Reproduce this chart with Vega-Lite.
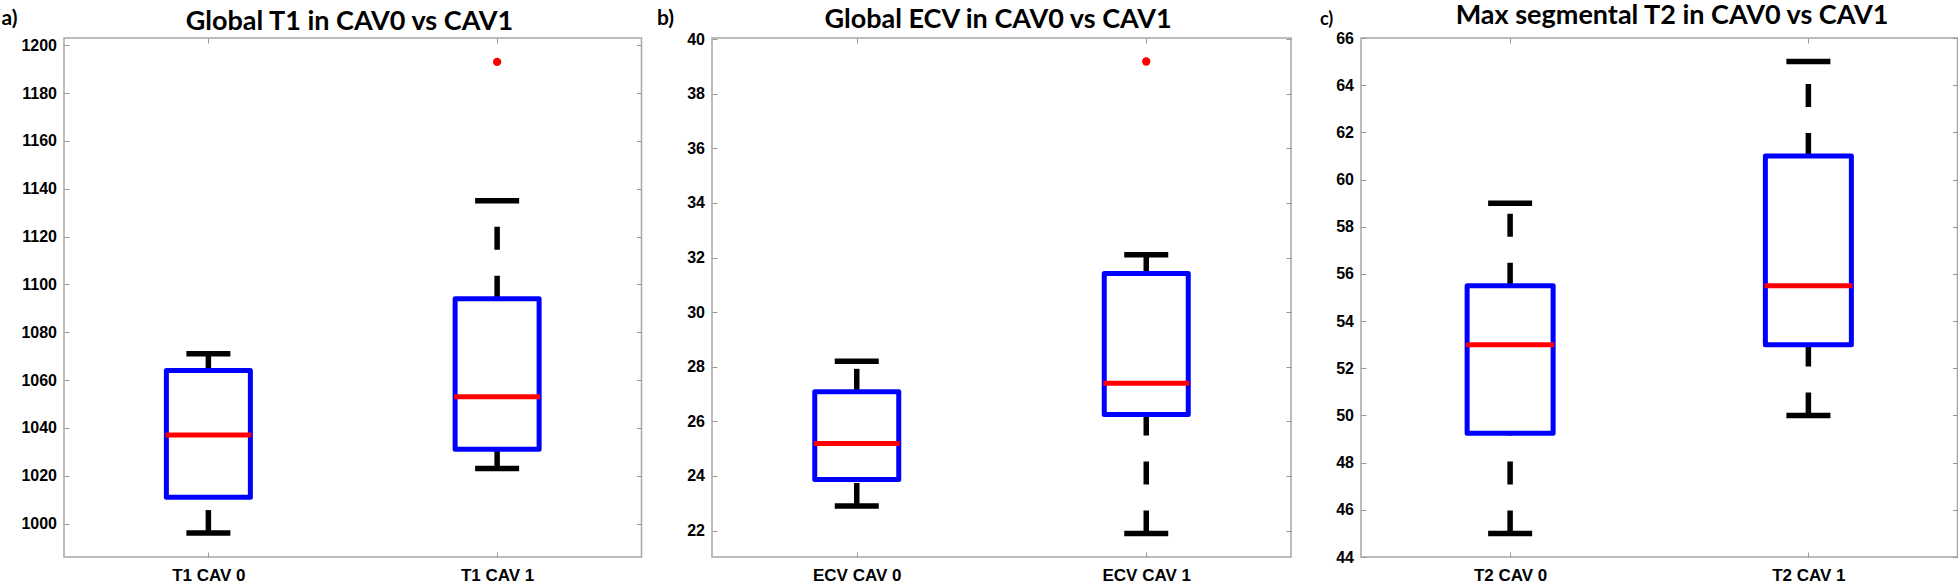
{
  "$schema": "https://vega.github.io/schema/vega-lite/v6.json",
  "background": "white",
  "padding": {"left": 0, "top": 0, "right": 0, "bottom": 0},
  "spacing": 70,
  "bounds": "flush",
  "config": {
    "view": {"stroke": "#a6a6a6", "strokeWidth": 1.5},
    "axis": {
      "labelFont": "Liberation Sans", "labelFontWeight": "bold", "labelColor": "black", "labelFontSize": 16,
      "tickColor": "#999999", "tickSize": -5, "tickWidth": 1, "domain": false, "grid": false,
      "titleFont": "Lato", "titleFontWeight": "bold", "titleColor": "black"
    },
    "axisX": {"labelFontSize": 17, "labelAngle": 0, "labelPadding": 15.5},
    "axisY": {"labelPadding": 12.5, "format": "d"}
  },
  "hconcat": [
    {
      "width": 577.5, "height": 519,
      "data": {"values": [
        {"group": "T1 CAV 0", "lower": 996, "q1": 1011, "median": 1037, "q3": 1064, "upper": 1071},
        {"group": "T1 CAV 1", "lower": 1023, "q1": 1031, "median": 1053, "q3": 1094, "upper": 1135}
      ]},
      "encoding": {"x": {"field": "group", "type": "nominal", "scale": {"type": "point", "padding": 0.5}, "axis": {"title": null}}},
      "resolve": {"axis": {"x": "independent", "y": "independent"}},
      "layer": [
        {"layer": [
          {"mark": {"type": "rule", "color": "black", "strokeWidth": 5.5, "strokeDash": [23, 26]},
           "encoding": {"y": {"field": "q3", "type": "quantitative", "scale": {"domain": [986, 1203], "nice": false, "zero": false},
             "axis": {"title": "a)", "format": "d", "values": [1000, 1020, 1040, 1060, 1080, 1100, 1120, 1140, 1160, 1180, 1200], "titleAngle": 0, "titleAlign": "left", "titleBaseline": "alphabetic", "titleX": -63, "titleY": -13.5, "titleFontSize": 21}},
             "y2": {"field": "upper"}}},
          {"mark": {"type": "rule", "color": "black", "strokeWidth": 5.5, "strokeDash": [23, 26]},
           "encoding": {"y": {"field": "lower", "type": "quantitative"}, "y2": {"field": "q1"}}},
          {"mark": {"type": "tick", "color": "black", "size": 44, "thickness": 5.5, "opacity": 1},
           "encoding": {"y": {"field": "upper", "type": "quantitative"}}},
          {"mark": {"type": "tick", "color": "black", "size": 44, "thickness": 5.5, "opacity": 1},
           "encoding": {"y": {"field": "lower", "type": "quantitative"}}},
          {"mark": {"type": "bar", "filled": false, "color": "#0000ff", "strokeWidth": 5, "size": 84, "strokeJoin": "round", "opacity": 1},
           "encoding": {"y": {"field": "q1", "type": "quantitative"}, "y2": {"field": "q3"}}},
          {"mark": {"type": "tick", "color": "#ff0000", "size": 86, "thickness": 5, "opacity": 1},
           "encoding": {"y": {"field": "median", "type": "quantitative"}}},
          {"data": {"values": [{"group": "T1 CAV 1", "value": 1193}]},
           "mark": {"type": "circle", "color": "#ff0000", "size": 70, "opacity": 1},
           "encoding": {"y": {"field": "value", "type": "quantitative"}}}
        ]},
        {"mark": {"type": "point", "opacity": 0},
         "encoding": {
           "x": {"field": "group", "type": "nominal", "axis": {"orient": "top", "labels": false, "title": "Global T1 in CAV0 vs CAV1", "titleFontSize": 27, "titleX": 285, "titleY": -8.7, "titleBaseline": "alphabetic", "titleAlign": "center"}},
           "y": {"field": "q3", "type": "quantitative", "axis": {"orient": "right", "labels": false, "title": null, "values": [1000, 1020, 1040, 1060, 1080, 1100, 1120, 1140, 1160, 1180, 1200]}}
         }}
      ]
    },
    {
      "width": 579, "height": 519,
      "data": {"values": [
        {"group": "ECV CAV 0", "lower": 22.9, "q1": 23.87, "median": 25.19, "q3": 27.08, "upper": 28.2},
        {"group": "ECV CAV 1", "lower": 21.89, "q1": 26.25, "median": 27.39, "q3": 31.41, "upper": 32.1}
      ]},
      "encoding": {"x": {"field": "group", "type": "nominal", "scale": {"type": "point", "padding": 0.5}, "axis": {"title": null}}},
      "resolve": {"axis": {"x": "independent", "y": "independent"}},
      "layer": [
        {"layer": [
          {"mark": {"type": "rule", "color": "black", "strokeWidth": 5.5, "strokeDash": [23, 26]},
           "encoding": {"y": {"field": "q3", "type": "quantitative", "scale": {"domain": [21.03, 40.04], "nice": false, "zero": false},
             "axis": {"title": "b)", "format": "d", "values": [22, 24, 26, 28, 30, 32, 34, 36, 38, 40], "titleAngle": 0, "titleAlign": "left", "titleBaseline": "alphabetic", "titleX": -55.5, "titleY": -13.5, "titleFontSize": 21}},
             "y2": {"field": "upper"}}},
          {"mark": {"type": "rule", "color": "black", "strokeWidth": 5.5, "strokeDash": [23, 26]},
           "encoding": {"y": {"field": "lower", "type": "quantitative"}, "y2": {"field": "q1"}}},
          {"mark": {"type": "tick", "color": "black", "size": 44, "thickness": 5.5, "opacity": 1},
           "encoding": {"y": {"field": "upper", "type": "quantitative"}}},
          {"mark": {"type": "tick", "color": "black", "size": 44, "thickness": 5.5, "opacity": 1},
           "encoding": {"y": {"field": "lower", "type": "quantitative"}}},
          {"mark": {"type": "bar", "filled": false, "color": "#0000ff", "strokeWidth": 5, "size": 84, "strokeJoin": "round", "opacity": 1},
           "encoding": {"y": {"field": "q1", "type": "quantitative"}, "y2": {"field": "q3"}}},
          {"mark": {"type": "tick", "color": "#ff0000", "size": 86, "thickness": 5, "opacity": 1},
           "encoding": {"y": {"field": "median", "type": "quantitative"}}},
          {"data": {"values": [{"group": "ECV CAV 1", "value": 39.18}]},
           "mark": {"type": "circle", "color": "#ff0000", "size": 70, "opacity": 1},
           "encoding": {"y": {"field": "value", "type": "quantitative"}}}
        ]},
        {"mark": {"type": "point", "opacity": 0},
         "encoding": {
           "x": {"field": "group", "type": "nominal", "axis": {"orient": "top", "labels": false, "title": "Global ECV in CAV0 vs CAV1", "titleFontSize": 27, "titleX": 285.5, "titleY": -11, "titleBaseline": "alphabetic", "titleAlign": "center"}},
           "y": {"field": "q3", "type": "quantitative", "axis": {"orient": "right", "labels": false, "title": null, "values": [22, 24, 26, 28, 30, 32, 34, 36, 38, 40]}}
         }}
      ]
    },
    {
      "width": 596.5, "height": 519,
      "data": {"values": [
        {"group": "T2 CAV 0", "lower": 45, "q1": 49.25, "median": 53, "q3": 55.5, "upper": 59},
        {"group": "T2 CAV 1", "lower": 50, "q1": 53, "median": 55.5, "q3": 61, "upper": 65}
      ]},
      "encoding": {"x": {"field": "group", "type": "nominal", "scale": {"type": "point", "padding": 0.5}, "axis": {"title": null}}},
      "resolve": {"axis": {"x": "independent", "y": "independent"}},
      "layer": [
        {"layer": [
          {"mark": {"type": "rule", "color": "black", "strokeWidth": 5.5, "strokeDash": [23, 26]},
           "encoding": {"y": {"field": "q3", "type": "quantitative", "scale": {"domain": [44, 66], "nice": false, "zero": false},
             "axis": {"title": "c)", "format": "d", "values": [44, 46, 48, 50, 52, 54, 56, 58, 60, 62, 64, 66], "titleAngle": 0, "titleAlign": "left", "titleBaseline": "alphabetic", "titleX": -41.5, "titleY": -14, "titleFontSize": 18}},
             "y2": {"field": "upper"}}},
          {"mark": {"type": "rule", "color": "black", "strokeWidth": 5.5, "strokeDash": [23, 26]},
           "encoding": {"y": {"field": "lower", "type": "quantitative"}, "y2": {"field": "q1"}}},
          {"mark": {"type": "tick", "color": "black", "size": 44, "thickness": 5.5, "opacity": 1},
           "encoding": {"y": {"field": "upper", "type": "quantitative"}}},
          {"mark": {"type": "tick", "color": "black", "size": 44, "thickness": 5.5, "opacity": 1},
           "encoding": {"y": {"field": "lower", "type": "quantitative"}}},
          {"mark": {"type": "bar", "filled": false, "color": "#0000ff", "strokeWidth": 5, "size": 86, "strokeJoin": "round", "opacity": 1},
           "encoding": {"y": {"field": "q1", "type": "quantitative"}, "y2": {"field": "q3"}}},
          {"mark": {"type": "tick", "color": "#ff0000", "size": 88, "thickness": 5, "opacity": 1},
           "encoding": {"y": {"field": "median", "type": "quantitative"}}}
        ]},
        {"mark": {"type": "point", "opacity": 0},
         "encoding": {
           "x": {"field": "group", "type": "nominal", "axis": {"orient": "top", "labels": false, "title": "Max segmental T2 in CAV0 vs CAV1", "titleFontSize": 27, "titleX": 310.5, "titleY": -14.3, "titleBaseline": "alphabetic", "titleAlign": "center"}},
           "y": {"field": "q3", "type": "quantitative", "axis": {"orient": "right", "labels": false, "title": null, "values": [44, 46, 48, 50, 52, 54, 56, 58, 60, 62, 64, 66]}}
         }}
      ]
    }
  ]
}
